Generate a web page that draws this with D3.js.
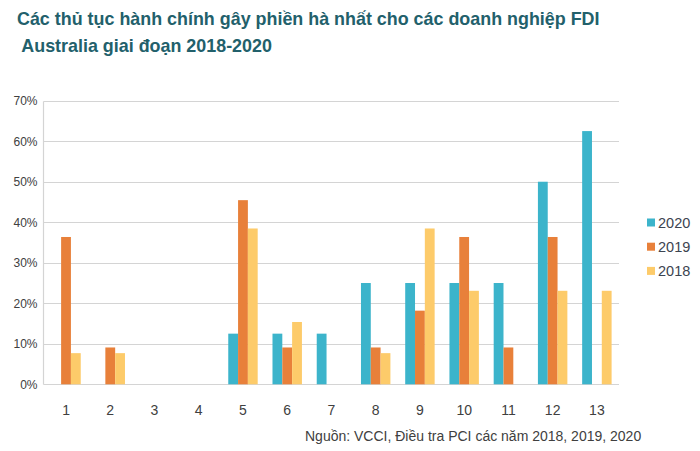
<!DOCTYPE html>
<html><head><meta charset="utf-8">
<script src="https://cdn.jsdelivr.net/npm/d3@7"></script>
<style>body{margin:0;background:#fff}svg{display:block}</style>
</head><body>
<script>
const categories = ["1","2","3","4","5","6","7","8","9","10","11","12","13"];
const series = ["2020","2019","2018"];
const values2020 = [0,0,0,0,12.5,12.5,12.5,25,25,25,25,50,62.5];
const values2019 = [36.36,9.09,0,0,45.45,9.09,0,9.09,18.18,36.36,9.09,36.36,0];
const values2018 = [7.69,7.69,0,0,38.46,15.38,0,7.69,38.46,23.08,0,23.08,23.08];
const yTicks = [0,10,20,30,40,50,60,70];
const colors = ["#3cb4cb","#e8803a","#fdcb6a"];
const titleLines = ["Các thủ tục hành chính gây phiền hà nhất cho các doanh nghiệp FDI"," Australia giai đoạn 2018-2020"];
const sourceText = "Nguồn: VCCI, Điều tra PCI các năm 2018, 2019, 2020";

const W=700,H=451;
const svg=d3.select("body").append("svg").attr("width",W).attr("height",H);
svg.append("rect").attr("width",W).attr("height",H).attr("fill","#fff");

const x=d3.scaleBand().domain(categories).range([43.9,619]).padding(0);
const xs=d3.scaleBand().domain(series).range([7.4,x.bandwidth()-7.4]).padding(0);
const y=d3.scaleLinear().domain([0,70]).range([384.3,100.7]);

// gridlines
svg.append("g").selectAll("line").data(yTicks).join("line")
  .attr("x1",43.5).attr("x2",619).attr("y1",d=>Math.round(y(d))+0.5).attr("y2",d=>Math.round(y(d))+0.5)
  .attr("stroke","#d4d4d4").attr("stroke-width",1.2);
svg.append("line").attr("x1",43.5).attr("x2",43.5).attr("y1",Math.round(y(70))+0.5).attr("y2",Math.round(y(0))+0.5)
  .attr("stroke","#d4d4d4").attr("stroke-width",1.2);

// y labels
const yAxis=d3.axisLeft(y).tickValues(yTicks).tickFormat(d=>d+"%").tickSize(0).tickPadding(6);
const gy=svg.append("g").attr("transform","translate(43.5,0)").call(yAxis);
gy.select(".domain").remove();
gy.selectAll("text").attr("font-family","Liberation Sans, Arial, sans-serif").attr("font-size",12).attr("fill","#404040");

// x labels
const xAxis=d3.axisBottom(x).tickSize(0).tickPadding(0);
const gx=svg.append("g").attr("transform","translate(0,405)").call(xAxis);
gx.select(".domain").remove();
gx.selectAll("text").attr("font-family","Liberation Sans, Arial, sans-serif").attr("font-size",14).attr("fill","#404040");

// bars
const data=[values2020,values2019,values2018];
series.forEach((s,i)=>{
  svg.append("g").selectAll("rect").data(categories.map((c,j)=>({c,v:data[i][j]})).filter(d=>d.v>0)).join("rect")
    .attr("x",d=>x(d.c)+xs(s)).attr("width",xs.bandwidth())
    .attr("y",d=>y(d.v)).attr("height",d=>y(0)-y(d.v)).attr("fill",colors[i]);
});

// legend
const lg=svg.append("g");
series.forEach((s,i)=>{
  const yy=222.5+i*24.2;
  lg.append("rect").attr("x",647).attr("y",yy-4).attr("width",8).attr("height",8).attr("fill",colors[i]);
  lg.append("text").attr("x",658).attr("y",yy+5.2).text(s)
    .attr("font-family","Liberation Sans, Arial, sans-serif").attr("font-size",14.5).attr("fill","#3c4450");
});

// title
titleLines.forEach((t,i)=>{
  svg.append("text").attr("x",17).attr("y",25+i*27).text(t).attr("xml:space","preserve").style("white-space","pre")
    .attr("font-family","Liberation Sans, Arial, sans-serif").attr("font-weight","bold").attr("font-size",17.9)
    .attr("fill","#22606b");
});

// source
svg.append("text").attr("x",305).attr("y",440.5).text(sourceText)
  .attr("font-family","Liberation Sans, Arial, sans-serif").attr("font-size",14).attr("fill","#404040");
</script>
</body></html>
